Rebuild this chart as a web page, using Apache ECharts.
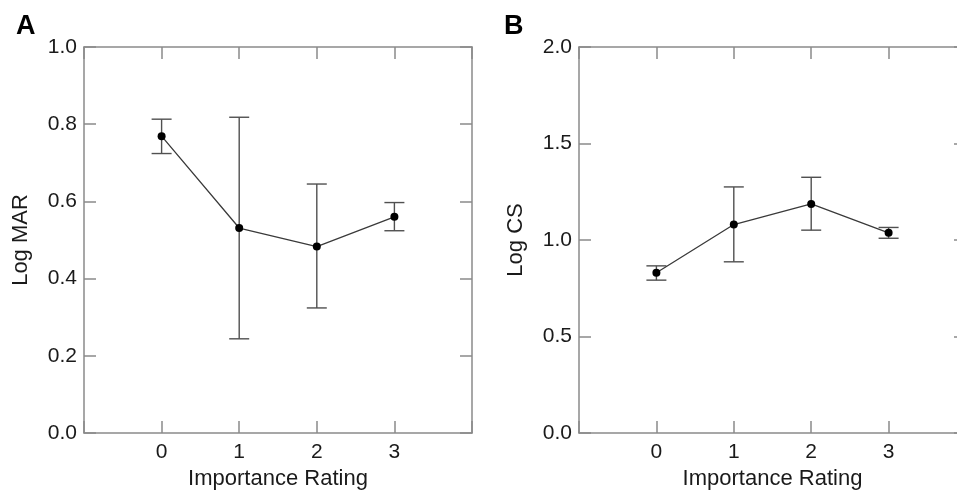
<!DOCTYPE html>
<html>
<head>
<meta charset="utf-8">
<script src="https://cdn.jsdelivr.net/npm/echarts@6/dist/echarts.min.js"></script>
<style>html,body{margin:0;padding:0;background:#fff;}#c{width:957px;height:491px;}</style>
</head>
<body>
<div id="c"></div>
<script>
const ratings = [0, 1, 2, 3];
const xTickLabels = ['0', '1', '2', '3'];
const logMAR = [0.769, 0.531, 0.483, 0.560];
const logMARLow = [0.724, 0.244, 0.324, 0.524];
const logMARHigh = [0.813, 0.818, 0.645, 0.597];
const logCS = [0.830, 1.080, 1.187, 1.037];
const logCSLow = [0.792, 0.887, 1.051, 1.009];
const logCSHigh = [0.866, 1.275, 1.325, 1.065];
const yTicksA = ['0.0', '0.2', '0.4', '0.6', '0.8', '1.0'];
const yTicksB = ['0.0', '0.5', '1.0', '1.5', '2.0'];

const FONT = 'Liberation Sans, Arial, sans-serif';
const AXIS_COLOR = '#8a8a8a';
const TEXT_COLOR = '#1a1a1a';

const chart = echarts.init(document.getElementById('c'), null, {renderer: 'canvas'});

function xAxes(gi) {
  const base = {
    type: 'value', gridIndex: gi, min: -1, max: 4, interval: 1,
    axisLine: {show: true, onZero: false, lineStyle: {color: AXIS_COLOR, width: 1.5}},
    axisTick: {show: true, inside: true, length: 12, lineStyle: {color: AXIS_COLOR, width: 1.5}},
    splitLine: {show: false}
  };
  return [
    Object.assign({}, base, {
      position: 'bottom',
      name: 'Importance Rating', nameLocation: 'middle', nameGap: 25,
      nameTextStyle: {fontFamily: FONT, fontSize: 22, color: TEXT_COLOR, verticalAlign: 'top'},
      axisLabel: {fontFamily: FONT, fontSize: 21, color: TEXT_COLOR, margin: 9,
        formatter: v => (v >= 0 && v <= 3) ? xTickLabels[v] : ''}
    }),
    Object.assign({}, base, {position: 'top', axisLabel: {show: false}})
  ];
}
function yAxes(gi, max, interval, labels, name, gap) {
  const base = {
    type: 'value', gridIndex: gi, min: 0, max: max, interval: interval,
    axisLine: {show: true, onZero: false, lineStyle: {color: AXIS_COLOR, width: 1.5}},
    axisTick: {show: true, inside: true, length: 12, lineStyle: {color: AXIS_COLOR, width: 1.5}},
    splitLine: {show: false}
  };
  return [
    Object.assign({}, base, {
      position: 'left', name: name, nameLocation: 'middle', nameGap: gap,
      nameTextStyle: {fontFamily: FONT, fontSize: 22, color: TEXT_COLOR},
      axisLabel: {fontFamily: FONT, fontSize: 21, color: TEXT_COLOR, margin: 7,
        formatter: v => labels[Math.round(v / interval)]}
    }),
    Object.assign({}, base, {position: 'right', axisLabel: {show: false}})
  ];
}

function errSeries(xi, yi, low, high) {
  return {
    type: 'custom', xAxisIndex: xi, yAxisIndex: yi, silent: true, z: 3,
    data: ratings.map((r, i) => [r, low[i], high[i]]),
    renderItem: function (params, api) {
      const lo = api.coord([api.value(0), api.value(1)]);
      const hi = api.coord([api.value(0), api.value(2)]);
      const w = 10;
      const st = {stroke: '#505050', lineWidth: 1.4};
      return {type: 'group', children: [
        {type: 'line', shape: {x1: lo[0], y1: lo[1], x2: hi[0], y2: hi[1]}, style: st},
        {type: 'line', shape: {x1: lo[0] - w, y1: lo[1], x2: lo[0] + w, y2: lo[1]}, style: st},
        {type: 'line', shape: {x1: hi[0] - w, y1: hi[1], x2: hi[0] + w, y2: hi[1]}, style: st}
      ]};
    }
  };
}
function lineSeries(xi, yi, vals) {
  return {
    type: 'line', xAxisIndex: xi, yAxisIndex: yi, z: 4,
    data: ratings.map((r, i) => [r, vals[i]]),
    symbol: 'circle', symbolSize: 8,
    itemStyle: {color: '#000'},
    lineStyle: {color: '#3a3a3a', width: 1.3},
    animation: false
  };
}

chart.setOption({
  animation: false,
  backgroundColor: '#fff',
  title: [
    {text: 'A', left: 11, top: 8, textStyle: {fontFamily: FONT, fontSize: 27, fontWeight: 'bold', color: '#000'}},
    {text: 'B', left: 499, top: 8, textStyle: {fontFamily: FONT, fontSize: 27, fontWeight: 'bold', color: '#000'}}
  ],
  grid: [
    {left: 84, top: 47, width: 388, height: 386, containLabel: false, outerBoundsMode: 'none'},
    {left: 579, top: 47, width: 387, height: 386, containLabel: false, outerBoundsMode: 'none'}
  ],
  xAxis: xAxes(0).concat(xAxes(1)),
  yAxis: yAxes(0, 1.0, 0.2, yTicksA, 'Log MAR', 52).concat(yAxes(1, 2.0, 0.5, yTicksB, 'Log CS', 52)),
  series: [
    errSeries(0, 0, logMARLow, logMARHigh),
    lineSeries(0, 0, logMAR),
    errSeries(2, 2, logCSLow, logCSHigh),
    lineSeries(2, 2, logCS)
  ]
});
</script>
</body>
</html>
